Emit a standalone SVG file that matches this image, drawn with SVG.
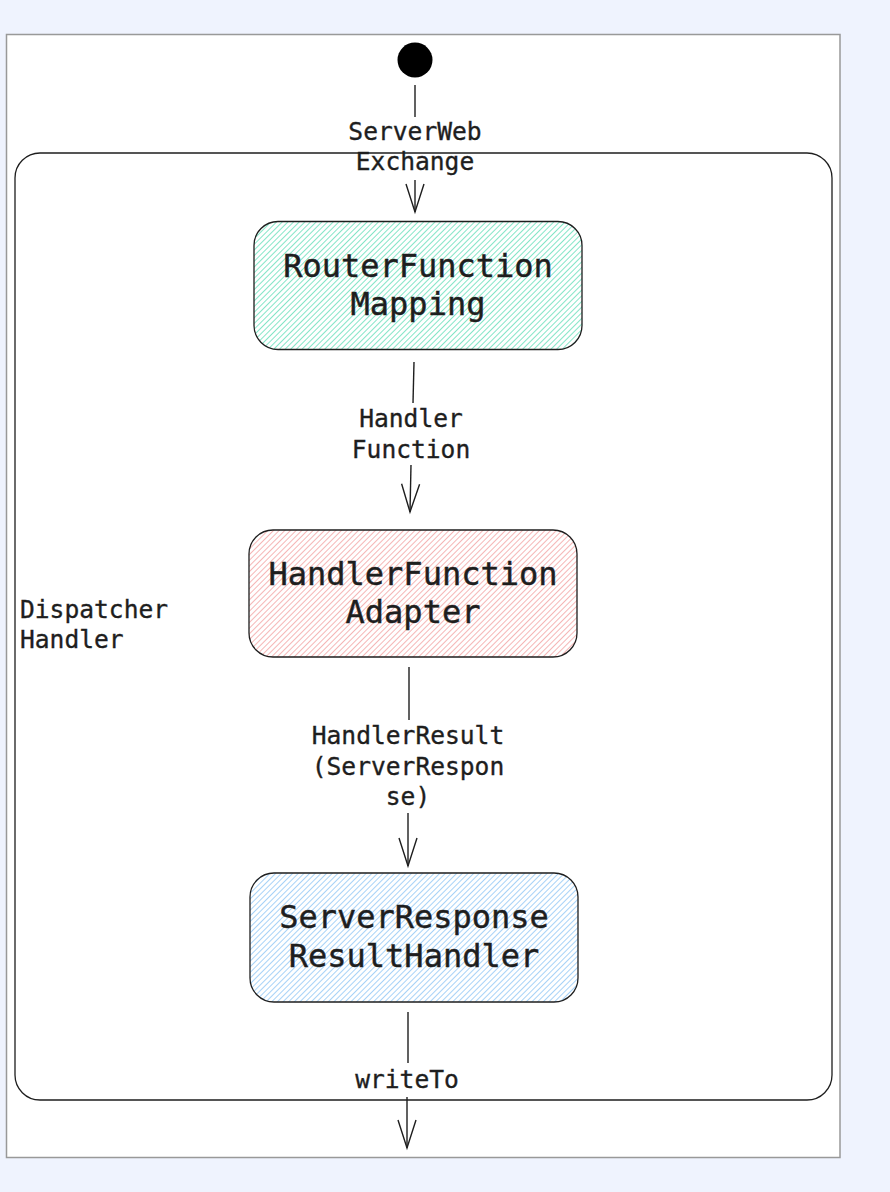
<svg xmlns="http://www.w3.org/2000/svg" width="890" height="1192" viewBox="0 0 890 1192">
<defs>
<style>
.lbl{font-family:"DejaVu Sans Mono","Liberation Mono",monospace;font-size:24.6px;fill:#1e1e1e;stroke:#1e1e1e;stroke-width:0.35;text-anchor:middle}
.ntx{font-family:"DejaVu Sans Mono","Liberation Mono",monospace;font-size:32px;fill:#1e1e1e;stroke:#1e1e1e;stroke-width:0.45;text-anchor:middle}
.node{stroke:#1e1e1e;stroke-width:1.3}
.edge{stroke:#1e1e1e;stroke-width:1.4;fill:none}
</style>
<pattern id="hg" width="4" height="4" patternUnits="userSpaceOnUse" patternTransform="rotate(45)">
<rect width="4" height="4" fill="#ffffff"/>
<line x1="0" y1="0" x2="0" y2="4" stroke="#2fd3a0" stroke-width="1.4" stroke-opacity="0.85"/>
</pattern>
<pattern id="hr" width="4" height="4" patternUnits="userSpaceOnUse" patternTransform="rotate(45)">
<rect width="4" height="4" fill="#ffffff"/>
<line x1="0" y1="0" x2="0" y2="4" stroke="#ec7a7a" stroke-width="1.4" stroke-opacity="0.8"/>
</pattern>
<pattern id="hb" width="4" height="4" patternUnits="userSpaceOnUse" patternTransform="rotate(45)">
<rect width="4" height="4" fill="#ffffff"/>
<line x1="0" y1="0" x2="0" y2="4" stroke="#60aef0" stroke-width="1.4" stroke-opacity="0.8"/>
</pattern>
<marker id="arr" markerUnits="userSpaceOnUse" markerWidth="40" markerHeight="30" refX="30" refY="15" orient="auto" viewBox="0 0 40 30">
<path d="M2 6 L30 15 L2 24" fill="none" stroke="#1e1e1e" stroke-width="1.4"/>
</marker>
</defs>
<rect x="0" y="0" width="890" height="1192" fill="#eff3fe"/>
<rect x="6.5" y="34.5" width="833.5" height="1123" fill="#ffffff" stroke="#999999" stroke-width="1.5"/>

<g id="dispatcher-handler">
<rect x="15" y="153" width="817" height="947" rx="25" fill="none" stroke="#1e1e1e" stroke-width="1.3"/>
<text x="20" y="618" class="lbl" style="text-anchor:start">Dispatcher</text>
<text x="20" y="648" class="lbl" style="text-anchor:start">Handler</text>
</g>

<g id="start">
<circle cx="415" cy="60" r="17.5" fill="#000000"/>
</g>

<g id="router-function-mapping">
<rect class="node" x="254" y="221.5" width="328" height="128" rx="24" fill="url(#hg)"/>
<text x="418" y="277" class="ntx">RouterFunction</text>
<text x="418" y="315" class="ntx">Mapping</text>
</g>

<g id="handler-function-adapter">
<rect class="node" x="249" y="530" width="328" height="127" rx="24" fill="url(#hr)"/>
<text x="413" y="585" class="ntx">HandlerFunction</text>
<text x="413" y="623" class="ntx">Adapter</text>
</g>

<g id="server-response-result-handler">
<rect class="node" x="250" y="873" width="328" height="129" rx="24" fill="url(#hb)"/>
<text x="414" y="928" class="ntx">ServerResponse</text>
<text x="414" y="967" class="ntx">ResultHandler</text>
</g>

<g id="connectors">
<line class="edge" x1="415" y1="85" x2="415" y2="117"/>
<path class="edge" d="M415 180 L415 212" marker-end="url(#arr)"/>
<text x="415" y="140" class="lbl">ServerWeb</text>
<text x="415" y="170" class="lbl">Exchange</text>

<line class="edge" x1="414" y1="362" x2="413" y2="403"/>
<path class="edge" d="M411 465 L410 512" marker-end="url(#arr)"/>
<text x="411" y="427" class="lbl">Handler</text>
<text x="411" y="458" class="lbl">Function</text>

<line class="edge" x1="409" y1="667" x2="409" y2="720"/>
<path class="edge" d="M408 813 L408 866" marker-end="url(#arr)"/>
<text x="408" y="744" class="lbl">HandlerResult</text>
<text x="408" y="775" class="lbl">(ServerRespon</text>
<text x="408" y="805" class="lbl">se)</text>

<line class="edge" x1="408" y1="1012" x2="408" y2="1063"/>
<path class="edge" d="M407 1097 L407 1148" marker-end="url(#arr)"/>
<text x="407" y="1088" class="lbl">writeTo</text>
</g>
</svg>
